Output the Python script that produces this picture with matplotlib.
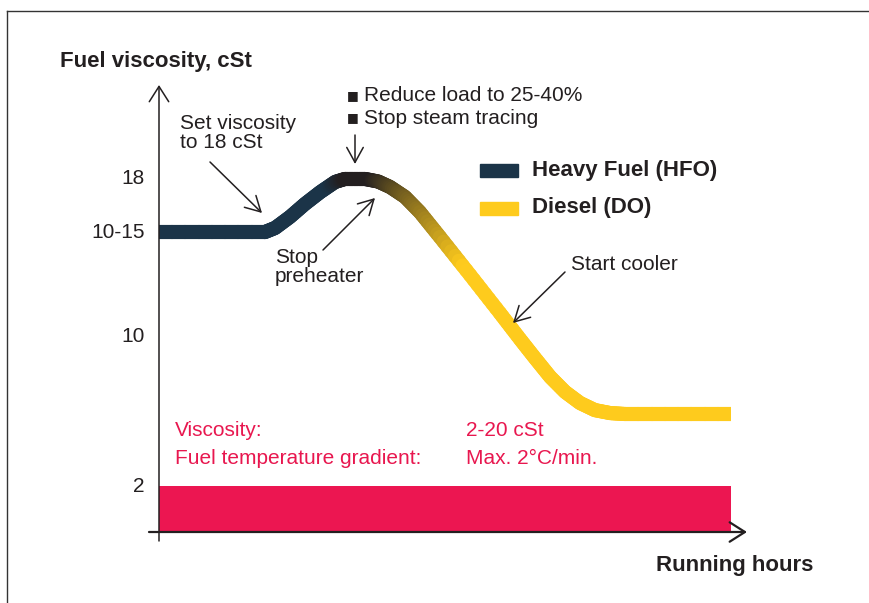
import numpy as np
import matplotlib.pyplot as plt
from matplotlib.collections import LineCollection
from matplotlib.colors import to_rgb
from matplotlib.lines import Line2D
from matplotlib.patches import Rectangle

W, H = 869, 603
FONT = ['Liberation Sans Narrow', 'Liberation Sans', 'DejaVu Sans']
plt.rcParams['font.family'] = FONT

# --- data (schematic chart: running hours 0-10, viscosity in chart units) ---
hours = [0.0, 1.85, 2.03, 2.29, 2.55, 2.82, 3.08, 3.25, 3.60, 3.83, 4.04,
         4.30, 4.56, 4.91, 5.44, 5.96, 6.31, 6.57, 6.84, 7.10, 7.36, 7.62,
         7.89, 8.15, 10.0]
viscosity = [13.04, 13.04, 13.22, 13.70, 14.26, 14.78, 15.22, 15.35, 15.35,
             15.24, 15.00, 14.57, 13.91, 12.83, 11.17, 9.52, 8.39, 7.57,
             6.74, 6.09, 5.61, 5.30, 5.17, 5.13, 5.13]
ytick_pos = [2.0, 8.52, 13.04, 15.39]
ytick_labels = ['2', '10', '10-15', '18']
limit_low = 2.0
hours_end = 10.0

NAVY = '#1b3448'
BLACK = '#231f20'
YELLOW = '#fecb1d'
RED = '#ec1651'
RED_TXT = '#e8174f'
INK = '#231f20'

fig = plt.figure(figsize=(W / 100, H / 100), dpi=100)
ax = fig.add_axes([0, 0, 1, 1])
ax.set_xlim(-159 / 57.2, 710 / 57.2)
ax.set_ylim(-71 / 23, 532 / 23)
ax.axis('off')

# red band (minimum viscosity 2 cSt)
ax.bar(0, limit_low, width=hours_end, align='edge', color=RED, zorder=1)

# viscosity curve with colour change HFO -> DO
pts = np.column_stack([hours, viscosity])
segs, cols = [], []
stops_h = np.array([0, 2.95, 3.25, 3.70, 5.35, 10])
stops_c = np.array([to_rgb(NAVY), to_rgb(NAVY), to_rgb(BLACK), to_rgb(BLACK),
                    to_rgb(YELLOW), to_rgb(YELLOW)])
for a, b in zip(pts[:-1], pts[1:]):
    n = 8
    for k in range(n):
        p0 = a + (b - a) * k / n
        p1 = a + (b - a) * (k + 1) / n
        xm = (p0[0] + p1[0]) / 2
        c = [np.interp(xm, stops_h, stops_c[:, i]) for i in range(3)]
        segs.append([p0, p1])
        cols.append(c)
lc = LineCollection(segs, colors=cols, linewidths=10.2, capstyle='round', zorder=3)
ax.add_collection(lc)
clip = Rectangle((0, -5), hours_end, 40, transform=ax.transData)
lc.set_clip_path(clip)

# axes with arrows
ax.annotate('', xy=(0, 447 / 23), xytext=(0, -9 / 23),
            arrowprops=dict(arrowstyle='->,head_length=0.55,head_width=0.35',
                            lw=1.1, color=INK, mutation_scale=20, shrinkA=0, shrinkB=0))
ax.annotate('', xy=(588 / 57.2, 0), xytext=(-10 / 57.2, 0),
            arrowprops=dict(arrowstyle='->,head_length=0.55,head_width=0.35',
                            lw=1.6, color=INK, mutation_scale=20, shrinkA=0, shrinkB=0))

# y tick labels
for v, lab in zip(ytick_pos, ytick_labels):
    ax.text(-14 / 57.2, v, lab, ha='right', va='center', fontsize=15, color=INK)


def fp(x, y):
    return x, H - y


def txt(x, y, s, **kw):
    kw.setdefault('fontsize', 15)
    kw.setdefault('color', INK)
    kw.setdefault('va', 'center')
    fig.text(x / W, 1 - y / H, s, **kw)


def arrow(x0, y0, x1, y1):
    ax.annotate('', xy=fp(x1, y1), xycoords='figure pixels',
                xytext=fp(x0, y0), textcoords='figure pixels',
                arrowprops=dict(arrowstyle='->,head_length=0.6,head_width=0.33',
                                lw=1.1, color=INK, mutation_scale=18,
                                shrinkA=0, shrinkB=0))


# frame
fig.add_artist(Line2D([7 / W, 1], [1 - 11 / H] * 2, color='#333333', lw=1))
fig.add_artist(Line2D([7 / W] * 2, [0, 1 - 11 / H], color='#333333', lw=1))

txt(60, 62, 'Fuel viscosity, cSt', fontweight='bold', fontsize=16)
txt(656, 565, 'Running hours', fontweight='bold', fontsize=16)

txt(180, 133, 'Set viscosity\nto 18 cSt', linespacing=0.95)
arrow(210, 162, 262, 213)

txt(347, 96, '\u25a0', fontsize=9, family='DejaVu Sans')
txt(347, 118, '\u25a0', fontsize=9, family='DejaVu Sans')
txt(364, 96, 'Reduce load to 25-40%')
txt(364, 118, 'Stop steam tracing')
arrow(355, 135, 355, 164)

txt(275, 267, 'Stop\npreheater', linespacing=0.95)
arrow(323, 250, 375, 198)

txt(571, 265, 'Start cooler')
arrow(565, 272, 513, 323)

# legend
fig.add_artist(Rectangle((480 / W, 1 - 177 / H), 38 / W, 13 / H, color=NAVY,
                         transform=fig.transFigure))
fig.add_artist(Rectangle((480 / W, 1 - 215 / H), 38 / W, 13 / H, color=YELLOW,
                         transform=fig.transFigure))
txt(532, 170, 'Heavy Fuel (HFO)', fontweight='bold', fontsize=16)
txt(532, 208, 'Diesel (DO)', fontweight='bold', fontsize=16)

# limits text
txt(175, 430, 'Viscosity:', color=RED_TXT)
txt(175, 458, 'Fuel temperature gradient:', color=RED_TXT)
txt(466, 430, '2-20 cSt', color=RED_TXT)
txt(466, 458, 'Max. 2\u00b0C/min.', color=RED_TXT)

fig.savefig('out.png', dpi=100)
